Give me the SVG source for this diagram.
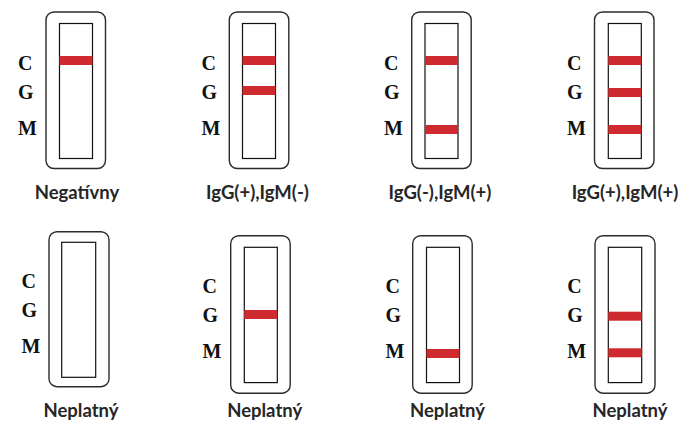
<svg xmlns="http://www.w3.org/2000/svg" width="680" height="421" viewBox="0 0 680 421">
  <style>
    .case { fill: #fff; stroke: #2b2b2b; stroke-width: 1.4; }
    .win { fill: #fff; stroke: #111; stroke-width: 1.2; }
    .band { fill: #cf2a2f; }
    .mark { font-family: "Liberation Serif", "Times New Roman", serif; font-weight: bold; font-size: 20px; fill: #111; }
    .cap { font-family: Lato, "Liberation Sans", sans-serif; font-weight: bold; font-size: 18.5px; fill: #262626; text-anchor: middle; }
  </style>

  <!-- top row -->
  <g id="negativny">
    <rect class="case" x="46" y="12" width="59.5" height="156.5" rx="8"/>
    <rect class="win" x="59.5" y="23.5" width="33" height="135"/>
    <rect class="band" x="59.5" y="56" width="33" height="9"/>
    <text class="mark" x="18" y="70">C</text>
    <text class="mark" x="18" y="98.5">G</text>
    <text class="mark" x="18" y="134.5">M</text>
    <text class="cap" x="77" y="199">Negatívny</text>
  </g>

  <g id="igg-pos-igm-neg">
    <rect class="case" x="229.3" y="12" width="59.5" height="156.5" rx="8"/>
    <rect class="win" x="242.5" y="23.5" width="33" height="135"/>
    <rect class="band" x="242.5" y="56" width="33" height="9"/>
    <rect class="band" x="242.5" y="86" width="33" height="9"/>
    <text class="mark" x="201.5" y="70">C</text>
    <text class="mark" x="201.5" y="98.5">G</text>
    <text class="mark" x="201.5" y="134.5">M</text>
    <text class="cap" x="257.5" y="199">IgG(+),IgM(-)</text>
  </g>

  <g id="igg-neg-igm-pos">
    <rect class="case" x="411.7" y="12" width="59.5" height="156.5" rx="8"/>
    <rect class="win" x="425" y="23.5" width="33" height="135"/>
    <rect class="band" x="425" y="56" width="33" height="9"/>
    <rect class="band" x="425" y="125" width="33" height="9"/>
    <text class="mark" x="384" y="70">C</text>
    <text class="mark" x="384" y="98.5">G</text>
    <text class="mark" x="384" y="134.5">M</text>
    <text class="cap" x="440" y="199">IgG(-),IgM(+)</text>
  </g>

  <g id="igg-pos-igm-pos">
    <rect class="case" x="594.5" y="12" width="59.5" height="156.5" rx="8"/>
    <rect class="win" x="608.3" y="23.5" width="33" height="135"/>
    <rect class="band" x="608.3" y="56" width="33" height="9"/>
    <rect class="band" x="608.3" y="88" width="33" height="9"/>
    <rect class="band" x="608.3" y="125" width="33" height="9"/>
    <text class="mark" x="567" y="70">C</text>
    <text class="mark" x="567" y="98.5">G</text>
    <text class="mark" x="567" y="134.5">M</text>
    <text class="cap" x="625" y="199">IgG(+),IgM(+)</text>
  </g>

  <!-- bottom row -->
  <g id="neplatny-1">
    <rect class="case" x="49" y="231.7" width="60" height="155" rx="8"/>
    <rect class="win" x="61.7" y="242.3" width="34" height="135"/>
    <text class="mark" x="21.5" y="288.3">C</text>
    <text class="mark" x="21.5" y="317">G</text>
    <text class="mark" x="21.5" y="352.5">M</text>
    <text class="cap" x="81" y="417">Neplatný</text>
  </g>

  <g id="neplatny-2">
    <rect class="case" x="230.7" y="235.7" width="59.5" height="157.5" rx="8"/>
    <rect class="win" x="244.3" y="247.3" width="33" height="135.3"/>
    <rect class="band" x="244.3" y="310" width="33" height="9"/>
    <text class="mark" x="202.5" y="293.3">C</text>
    <text class="mark" x="202.5" y="321.7">G</text>
    <text class="mark" x="202.5" y="358">M</text>
    <text class="cap" x="264.7" y="417">Neplatný</text>
  </g>

  <g id="neplatny-3">
    <rect class="case" x="412.7" y="235.7" width="59.5" height="157.5" rx="8"/>
    <rect class="win" x="426.5" y="247.3" width="33" height="135.3"/>
    <rect class="band" x="426.5" y="349" width="33" height="9"/>
    <text class="mark" x="385.5" y="293.3">C</text>
    <text class="mark" x="385.5" y="321.7">G</text>
    <text class="mark" x="385.5" y="358">M</text>
    <text class="cap" x="447.5" y="417">Neplatný</text>
  </g>

  <g id="neplatny-4">
    <rect class="case" x="595" y="235.7" width="60" height="157.5" rx="8"/>
    <rect class="win" x="608.3" y="247.3" width="33.4" height="135.3"/>
    <rect class="band" x="608.3" y="311.7" width="33.4" height="9"/>
    <rect class="band" x="608.3" y="348.3" width="33.4" height="9"/>
    <text class="mark" x="567.3" y="293.3">C</text>
    <text class="mark" x="567.3" y="321.7">G</text>
    <text class="mark" x="567.3" y="358">M</text>
    <text class="cap" x="630" y="417">Neplatný</text>
  </g>

  <g id="connectors"/>
</svg>
